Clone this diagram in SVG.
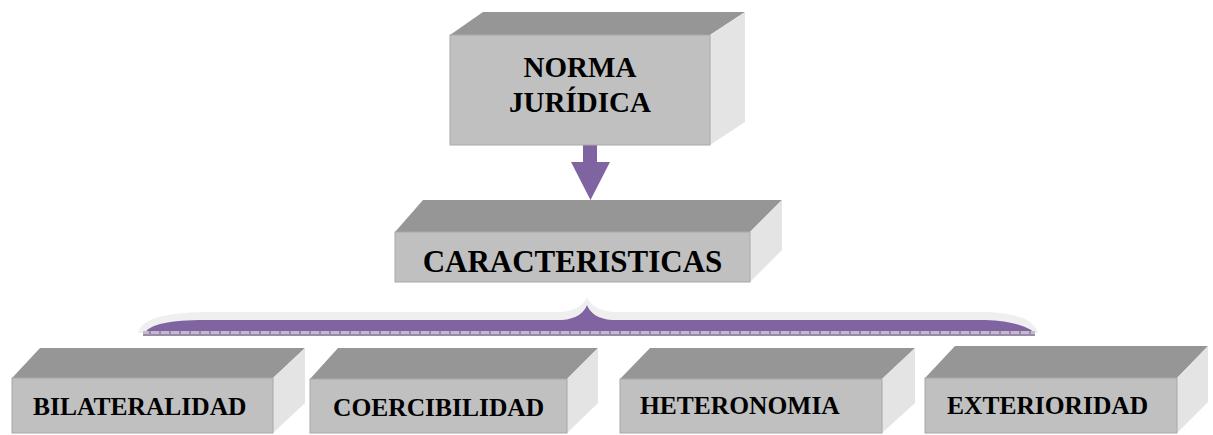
<svg xmlns="http://www.w3.org/2000/svg" width="1213" height="435" viewBox="0 0 1213 435">
<defs>
<style>
.front{fill:#c0c0c0;stroke:#a8a8a8;stroke-width:1}
.top{fill:#969696}
.side{fill:#e4e4e4}
.lbl{font-family:"Liberation Serif","Times New Roman",serif;font-weight:bold;fill:#000}
</style>
<linearGradient id="sideg" x1="0" y1="0" x2="1" y2="0">
<stop offset="0" stop-color="#dcdcdc"/><stop offset="1" stop-color="#ececec"/>
</linearGradient>
<pattern id="chk" width="10" height="5" patternUnits="userSpaceOnUse">
<rect width="10" height="5" fill="#9a8ca8"/>
<rect x="1" y="1" width="8" height="3" fill="#c3bacb"/>
</pattern>
</defs>
<rect width="1213" height="435" fill="#fff"/>

<g id="connectors">
<polygon points="583,145 597,145 597,162 610,162 590.5,200 571,162 583,162" fill="#8064a2"/>
<path d="M138,333 C142,318 165,313 205,312 L560,312 C575,311 584,305 587,297 C590,305 599,311 614,312 L985,312 C1018,313 1034,320 1038,333 Z" fill="#efefef"/>
<path d="M145,333 C150,324 170,320 205,320 L562,320 C576,319 584,313 587,305 C590,313 598,319 612,320 L985,320 C1014,321 1028,327 1035,333 Z" fill="#8064a2"/>
<rect x="143" y="331" width="892" height="5" fill="url(#chk)"/>
</g>

<g id="norma">
<polygon class="top" points="450,35 483,12 745,12 710,35"/>
<polygon class="side" fill="url(#sideg)" points="710,35 745,12 745,122 710,145"/>
<rect class="front" x="450" y="35" width="260" height="110"/>
<text class="lbl" font-size="29" x="580" y="77" text-anchor="middle">NORMA</text>
<text class="lbl" font-size="29" x="580" y="112" text-anchor="middle">JURÍDICA</text>
</g>

<g id="caracteristicas">
<polygon class="top" points="395,232 423,200 782,200 750,232"/>
<polygon class="side" fill="url(#sideg)" points="750,232 782,200 782,250 750,282"/>
<rect class="front" x="395" y="232" width="355" height="50"/>
<text class="lbl" font-size="31" x="572.5" y="272" text-anchor="middle">CARACTERISTICAS</text>
</g>

<g id="bilateralidad">
<polygon class="top" points="12,378 40,348 305,348 273,378"/>
<polygon class="side" fill="url(#sideg)" points="273,378 305,348 305,403 273,433"/>
<rect class="front" x="12" y="378" width="261" height="55"/>
<text class="lbl" font-size="25.5" x="33" y="415">BILATERALIDAD</text>
</g>

<g id="coercibilidad">
<polygon class="top" points="310,379 338,348 598,348 567,379"/>
<polygon class="side" fill="url(#sideg)" points="567,379 598,348 598,403 567,433"/>
<rect class="front" x="310" y="379" width="257" height="54"/>
<text class="lbl" font-size="25.5" x="333" y="416">COERCIBILIDAD</text>
</g>

<g id="heteronomia">
<polygon class="top" points="620,379 650,348 915,348 882,379"/>
<polygon class="side" fill="url(#sideg)" points="882,379 915,348 915,403 882,433"/>
<rect class="front" x="620" y="379" width="262" height="54"/>
<text class="lbl" font-size="25.5" x="640" y="414">HETERONOMIA</text>
</g>

<g id="exterioridad">
<polygon class="top" points="925,378 955,346 1208,346 1177,378"/>
<polygon class="side" fill="url(#sideg)" points="1177,378 1208,346 1208,402 1177,433"/>
<rect class="front" x="925" y="378" width="252" height="55"/>
<text class="lbl" font-size="25.5" x="947" y="414">EXTERIORIDAD</text>
</g>
</svg>
